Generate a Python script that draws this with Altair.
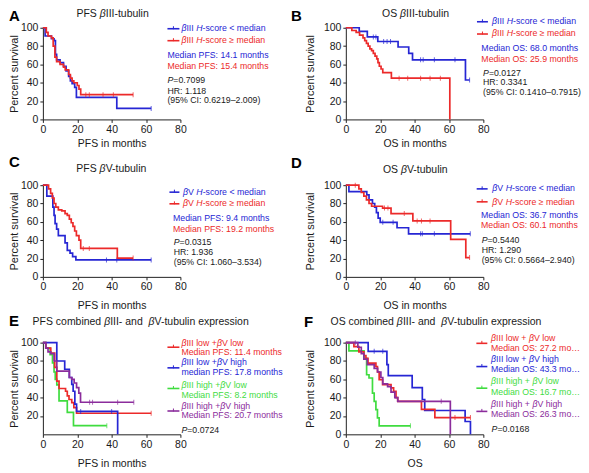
import altair as alt
import pandas as pd

FONT = "Liberation Sans, Arial, Helvetica, sans-serif"
BLUE = "#2626d4"
RED = "#ec2a2a"
GREEN = "#3fdc3f"
PURPLE = "#8b2c9c"
INK = "#1a1a1a"

X_TICKS = [0, 20, 40, 60, 80]
Y_TICKS = [0, 20, 40, 60, 80, 100]
Y_TICKS_E = [20, 40, 60, 80, 100]

# ---------------- data (months, percent survival, censor times) -------------
# A: PFS beta-III
a_lo_t = [0, 1.3, 5, 6.5, 7.3, 8, 10, 12, 13.5, 15, 16, 17, 18.5, 19.5, 43, 63]
a_lo_s = [100, 91, 88, 86, 71, 65, 62, 58, 53, 47, 42, 39, 35, 24, 12, 12]
a_lo_c = [63]
a_hi_t = [0, 2, 3, 5, 6, 7, 8, 10, 12, 13, 15, 16, 17, 18, 20, 21, 22, 52.5]
a_hi_s = [100, 95, 91, 89, 80, 68, 63, 60, 57, 54, 49, 45, 42, 40, 37, 33, 27, 27]
a_hi_c = [25, 27, 35, 41, 52.5]
# B: OS beta-III
b_lo_t = [0, 7.8, 12.5, 18.6, 30.4, 36.6, 38.8, 69.6, 72]
b_lo_s = [100, 96, 90, 85, 79, 72, 65, 43, 43]
b_lo_c = [16, 17.5, 22, 24, 26, 43.5, 45, 51.5, 63.5, 72]
b_hi_t = [0, 3.5, 6, 8, 10, 11, 12, 13, 14, 15, 16, 17, 18, 18.7, 19.5, 20.5, 21.5, 26.5, 60.5]
b_hi_s = [100, 97, 95, 92, 89, 86, 83, 80, 77, 75, 72, 69, 66, 62, 58, 55, 51, 45, 0]
b_hi_c = [31, 36, 43.5, 49, 55]
# C: PFS beta-V
c_lo_t = [0, 2.3, 5.8, 6.5, 7.1, 8, 9, 12.9, 14.2, 15.8, 17.3, 19.2, 63]
c_lo_s = [100, 88, 76, 67, 58, 52, 45, 37, 29, 26, 22, 18.5, 18.5]
c_lo_c = [37, 43, 63]
c_hi_t = [0, 3.3, 4.5, 5.5, 6.5, 7.5, 9, 11, 12.9, 14.2, 15.4, 16.5, 17.5, 18.5, 19.5, 21, 22, 43.3, 52.5]
c_hi_s = [100, 96, 91, 86, 80, 76, 73, 72, 69, 67, 63, 59, 55, 50, 45, 40, 31, 20.5, 20.5]
c_hi_c = [23.5, 27, 52.5]
# D: OS beta-V
d_lo_t = [0, 1.8, 12.2, 13.5, 15.5, 16.8, 17.8, 18.8, 20, 29.8, 36.5, 72.4]
d_lo_s = [100, 93, 89.5, 84, 80, 76, 70, 64, 59.5, 53.6, 47, 47]
d_lo_c = [21.5, 27.5, 43.5, 44.5, 51.5, 72.4]
d_hi_t = [0, 7.6, 9, 10.5, 12, 13.5, 15, 21.4, 26.3, 39, 61, 69.8, 72]
d_hi_s = [100, 96, 92, 88, 84, 80, 77, 75, 69, 61, 41, 21, 21]
d_hi_c = [5.5, 22.5, 24.5, 34, 41.5, 44, 49, 72]
# E: PFS combined
e_ll_t = [0, 1.7, 4.6, 6.9, 8.1, 9.4, 13.2, 14.2, 15.2, 16.8, 18, 19.6, 63]
e_ll_s = [100, 94, 88.6, 73, 58, 50, 47, 42, 38, 34.6, 29.2, 23, 23]
e_ll_c = [63]
e_lh_t = [0, 8.1, 12.7, 15.4, 16.8, 17.6, 18.6, 19.6, 43.5]
e_lh_s = [100, 80, 71, 62, 54.5, 47, 33, 25, 0]
e_lh_c = [22, 40]
e_hl_t = [0, 1.7, 4.2, 5.6, 6.5, 7.2, 8.1, 9.4, 14.2, 17.8, 37.2]
e_hl_s = [100, 94, 87, 78, 68, 60, 54, 36.4, 24, 9.4, 9.4]
e_hl_c = [37.2]
e_hh_t = [0, 1.7, 3, 4.6, 6.5, 8.1, 15.4, 16.8, 18.2, 19.6, 20.9, 21.9, 52.9]
e_hh_s = [100, 94, 90, 88, 80, 69, 62, 60, 56, 51, 45, 35, 35]
e_hh_c = [27.2, 28.9, 43.5, 52.9]
# F: OS combined
f_ll_t = [0, 4.7, 7.6, 10.5, 11.7, 12.9, 17.5, 18.4, 19.4, 21.4, 26.3, 27.8, 29.2, 30.2, 44, 51.8, 72.5]
f_ll_s = [100, 95.6, 90, 86, 83, 77.6, 74, 68, 59.6, 54.3, 50.7, 47, 40, 36, 27.3, 18.3, 18.3]
f_ll_c = [63.5, 72.5]
f_lh_t = [0, 13, 23.9, 24.7, 38.6, 44.5, 45.9, 69.4, 72.5]
f_lh_s = [100, 90.5, 76, 64, 51, 38, 26, 14, 0]
f_lh_c = [16.5, 21.5]
f_hl_t = [0, 1.8, 10.6, 12.1, 13.5, 15.5, 16.5, 17.5, 18.4, 19.4, 37.6]
f_hl_s = [100, 91, 83, 65, 61.4, 45, 36, 27, 18, 9.3, 9.3]
f_hl_c = [37.6]
f_hh_t = [0, 7, 9, 10.5, 12.5, 16.5, 18.5, 20.4, 21.5, 24.3, 26.3, 28.5, 30.2, 60.8]
f_hh_s = [100, 95, 88, 82, 76, 72, 68, 62, 55, 52, 46, 40, 36, 0]
f_hh_c = [5.5, 55.5]

# ---------------- helpers ----------------
W, H = 138, 92
LS = 8.8  # legend font size

CW = {" ": 278, "%": 889, "(": 333, ")": 333, "+": 584, ",": 278, "-": 333, ".": 278,
      ":": 278, "<": 584, "=": 584, ">": 584, "\u2013": 556, "\u2265": 549, "\u03b2": 575,
      "A": 667, "B": 667, "C": 722, "D": 722, "E": 667, "F": 611, "G": 778, "H": 722,
      "I": 278, "J": 500, "K": 667, "L": 556, "M": 833, "N": 722, "O": 778, "P": 667,
      "Q": 778, "R": 722, "S": 667, "T": 611, "U": 722, "V": 667, "W": 944, "X": 667,
      "Y": 667, "Z": 611, "a": 556, "b": 556, "c": 500, "d": 556, "e": 556, "f": 278,
      "g": 556, "h": 556, "i": 222, "j": 222, "k": 500, "l": 222, "m": 833, "n": 556,
      "o": 556, "p": 556, "q": 556, "r": 333, "s": 500, "t": 278, "u": 556, "v": 500,
      "w": 722, "x": 500, "y": 500, "z": 500}


def tw(s, size):
    return sum(CW.get(c, 556) for c in s) * size / 1000.0


DUMMY = pd.DataFrame({"k": [0]})


def rich(parts, x, y, size=LS, color=INK, align="left", weight="normal", limit=None):
    total = sum(tw(p[0], size) for p in parts)
    cx = x - total / 2.0 if align == "center" else x
    out = []
    for text, ital in parts:
        kw = dict(text=text, align="left", baseline="alphabetic", font=FONT, fontSize=size,
                  fontStyle="italic" if ital else "normal", fontWeight=weight, color=color)
        if limit is not None:
            kw["limit"] = limit
            kw["ellipsis"] = ""
        out.append(alt.Chart(DUMMY).mark_text(**kw).encode(x=alt.value(cx), y=alt.value(y)))
        cx += tw(text, size)
    return out


def plain(text, x, y, color=INK, limit=None):
    return rich([(text, False)], x, y, color=color, limit=limit)


def pval(value, x, y):
    return rich([("P", True), ("=" + value, False)], x, y)


def marker(x1, x2, y, color):
    return [
        alt.Chart(DUMMY).mark_rule(color=color, strokeWidth=1.6).encode(
            x=alt.value(x1), x2=alt.value(x2), y=alt.value(y)),
        alt.Chart(DUMMY).mark_rule(color=color, strokeWidth=1).encode(
            x=alt.value((x1 + x2) / 2.0), y=alt.value(y - 2.5), y2=alt.value(y + 0.5)),
    ]


def letter(ch, x, y):
    return rich([(ch, False)], x, y, size=15, weight="bold", color="#000")


def title(parts, x, y, align="center"):
    return rich(parts, x, y, size=10.5, color=INK, align=align)


def step_at(t, s, c):
    v = s[0]
    for ti, si in zip(t, s):
        if ti <= c:
            v = si
    return v


def enc(xtitle, yvals, ytp, xtp):
    X = alt.X("t:Q", scale=alt.Scale(domain=[0, 80], nice=False),
              axis=alt.Axis(title=xtitle, values=X_TICKS, grid=False, domainColor="#222",
                            tickColor="#222", tickSize=3, labelPadding=2, labelFont=FONT,
                            labelFontSize=10.5, labelColor=INK, titleFont=FONT,
                            titleFontSize=10.5, titleFontWeight="normal", titleColor=INK,
                            titlePadding=xtp, labelFlush=False))
    Y = alt.Y("s:Q", scale=alt.Scale(domain=[0, 100], nice=False),
              axis=alt.Axis(title="Percent survival", values=yvals, grid=False,
                            domainColor="#222", tickColor="#222", tickSize=3, labelPadding=2,
                            labelFont=FONT, labelFontSize=10.5, labelColor=INK,
                            titleFont=FONT, titleFontSize=11, titleFontWeight="normal",
                            titleColor=INK, titlePadding=ytp, labelFlush=False))
    return X, Y


def panel(curves, xtitle, yvals, ytp, xtp, extras):
    X, Y = enc(xtitle, yvals, ytp, xtp)
    layers = []
    for t, s, cens, color in curves:
        layers.append(alt.Chart(pd.DataFrame({"t": t, "s": s})).mark_line(
            interpolate="step-after", color=color, strokeWidth=1.7).encode(x=X, y=Y))
        cs = [step_at(t, s, c) for c in cens]
        layers.append(alt.Chart(pd.DataFrame({"t": cens, "s": cs})).mark_tick(
            orient="vertical", size=5, thickness=1, color=color).encode(x=X, y=Y))
    layers += extras
    return alt.layer(*layers).properties(width=W, height=H)


B3 = [("\u03b2", True), ("III ", False), ("H", True)]
B5 = [("\u03b2", True), ("V ", False), ("H", True)]
LT = ("-score < median", False)
GE = ("-score \u2265 median", False)

# ---------------- panels ----------------
ex_a = (letter("A", -34, -7) + title([("PFS ", False), ("\u03b2", True), ("III-tubulin", False)], 70, -10.5)
        + marker(125, 137, 1, BLUE) + rich(B3 + [LT], 139, 3.5, color=BLUE)
        + marker(125, 137, 13, RED) + rich(B3 + [GE], 139, 15.5, color=RED)
        + plain("Median PFS: 14.1 months", 125, 30, BLUE)
        + plain("Median PFS: 15.4 months", 125, 41, RED)
        + pval("0.7099", 125, 55) + plain("HR: 1.118", 125, 66)
        + plain("(95% CI: 0.6219\u20132.009)", 125, 76))
pa = panel([(a_lo_t, a_lo_s, a_lo_c, BLUE), (a_hi_t, a_hi_s, a_hi_c, RED)],
           "PFS in months", Y_TICKS, 1, 4, ex_a)

ex_b = (letter("B", -55, -7) + title([("OS ", False), ("\u03b2", True), ("III-tubulin", False)], 70, -10.5)
        + marker(131.6, 142.6, -6, BLUE) + rich(B3 + [LT], 146.6, -3.7, color=BLUE)
        + marker(131.6, 142.6, 6.3, RED) + rich(B3 + [GE], 146.6, 8.7, color=RED)
        + plain("Median OS: 68.0 months", 136, 23.7, BLUE)
        + plain("Median OS: 25.9 months", 136, 34.7, RED)
        + pval("0.0127", 137.7, 48) + plain("HR: 0.3341", 137.7, 57.5)
        + plain("(95% CI: 0.1410\u20130.7915)", 137.7, 67.5))
pb = panel([(b_lo_t, b_lo_s, b_lo_c, BLUE), (b_hi_t, b_hi_s, b_hi_c, RED)],
           "OS in months", Y_TICKS, 8, 4, ex_b)

ex_c = (letter("C", -34, -18) + title([("PFS ", False), ("\u03b2", True), ("V-tubulin", False)], 69, -13)
        + marker(127, 137, 7, BLUE) + rich(B5 + [LT], 140.6, 9.7, color=BLUE)
        + marker(127, 137, 18.7, RED) + rich(B5 + [GE], 140.6, 21.3, color=RED)
        + plain("Median PFS: 9.4 months", 130.6, 36.3, BLUE)
        + plain("Median PFS: 19.2 months", 130.6, 47, RED)
        + pval("0.0315", 131.3, 60.3) + plain("HR: 1.936", 131.3, 69.7)
        + plain("(95% CI: 1.060\u20133.534)", 131.3, 79.7))
pc = panel([(c_lo_t, c_lo_s, c_lo_c, BLUE), (c_hi_t, c_hi_s, c_hi_c, RED)],
           "PFS in months", Y_TICKS, 1, 8, ex_c)

ex_d = (letter("D", -55, -17) + title([("OS ", False), ("\u03b2", True), ("V-tubulin", False)], 70, -12.7)
        + marker(131.3, 142.3, 3.7, BLUE) + rich(B5 + [LT], 147, 6, color=BLUE)
        + marker(131.3, 142.3, 16.7, RED) + rich(B5 + [GE], 147, 19.4, color=RED)
        + plain("Median OS: 36.7 months", 135.7, 32.7, BLUE)
        + plain("Median OS: 60.1 months", 135.7, 42.7, RED)
        + pval("0.5440", 136.3, 57.7) + plain("HR: 1.290", 136.3, 67.7)
        + plain("(95% CI: 0.5664\u20132.940)", 136.3, 77.7))
pd_ = panel([(d_lo_t, d_lo_s, d_lo_c, BLUE), (d_hi_t, d_hi_s, d_hi_c, RED)],
            "OS in months", Y_TICKS, 8, 8, ex_d)


def combo(a, b, sep):
    return [("\u03b2", True), ("III " + a + " +" + sep, False), ("\u03b2", True), ("V " + b, False)]


E_TITLE = [("PFS combined ", False), ("\u03b2", True), ("III- and  ", False), ("\u03b2", True),
           ("V-tubulin expression", False)]
F_TITLE = [("OS combined ", False), ("\u03b2", True), ("III- and  ", False), ("\u03b2", True),
           ("V-tubulin expression", False)]

ex_e = (letter("E", -34, -16.4) + title(E_TITLE, -10.3, -18, align="left")
        + marker(125, 137, 4.6, RED) + rich(combo("low", "low", ""), 139, 3, color=RED)
        + plain("Median PFS: 11.4 months", 139, 12.6, RED)
        + marker(125, 137, 25.3, BLUE) + rich(combo("low", "high", ""), 139, 22, color=BLUE)
        + plain("median PFS: 17.8 months", 139, 32.6, BLUE)
        + marker(125, 137, 46, GREEN) + rich(combo("high", "low", ""), 139, 45.3, color=GREEN)
        + plain("Median PFS: 8.2 months", 139, 55.3, GREEN)
        + marker(125, 137, 68.6, PURPLE) + rich(combo("high", "high", ""), 139, 66.3, color=PURPLE)
        + plain("Median PFS: 20.7 months", 139, 76, PURPLE)
        + pval("0.0724", 139, 90.3))
pe = panel([(e_hl_t, e_hl_s, e_hl_c, GREEN), (e_ll_t, e_ll_s, e_ll_c, RED),
            (e_lh_t, e_lh_s, e_lh_c, BLUE), (e_hh_t, e_hh_s, e_hh_c, PURPLE)],
           "PFS in months", Y_TICKS_E, 1, 9, ex_e)

ex_f = (letter("F", -42, -16) + title(F_TITLE, -15.3, -17.6, align="left")
        + marker(131, 142, 0.7, RED) + rich(combo("low", "low", " "), 145.7, -2, color=RED)
        + plain("Median OS: 27.2 months", 145.7, 8.4, RED, limit=94)
        + marker(131, 142, 24, BLUE) + rich(combo("low", "high", " "), 145.7, 19.7, color=BLUE)
        + plain("Median OS: 43.3 months", 145.7, 29.7, BLUE, limit=94)
        + marker(131, 142, 45.7, GREEN) + rich(combo("high", "low", " "), 145.7, 41.7, color=GREEN)
        + plain("Median OS: 16.7 months", 145.7, 52.4, GREEN, limit=94)
        + marker(131, 142, 69, PURPLE) + rich(combo("high", "high", " "), 145.7, 64.7, color=PURPLE)
        + plain("Median OS: 26.3 months", 145.7, 74.7, PURPLE, limit=94)
        + pval("0.0168", 146.3, 89.7))
pf = panel([(f_hl_t, f_hl_s, f_hl_c, GREEN), (f_lh_t, f_lh_s, f_lh_c, BLUE),
            (f_ll_t, f_ll_s, f_ll_c, RED), (f_hh_t, f_hh_s, f_hh_c, PURPLE)],
           "OS", Y_TICKS, 8, 9, ex_f)

chart = alt.concat(pa, pb, pc, pd_, pe, pf, columns=2,
                   spacing={"row": 66, "column": 166}, bounds="flush").properties(
    padding=0).configure_view(stroke=None)

chart.save("out.html", embed_options={"renderer": "svg", "actions": False})
